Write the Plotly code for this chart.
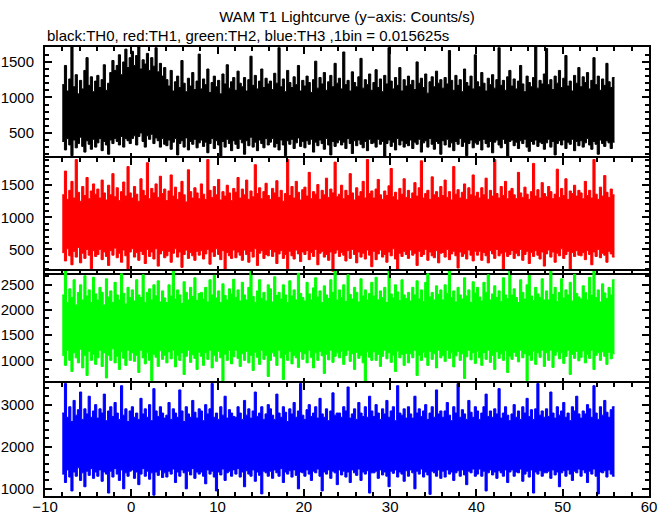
import plotly.graph_objects as go
from plotly.subplots import make_subplots

# Light-curve envelope samples (counts/s): per-0.25 s max (hi) and min (lo)
# of the 1/64 s bins, starting at t = -8 s
T_START = -8.0
STEP = 0.25

th0_hi = [1180,1450,1090,1260,1710,1150,1320,1050,1240,1120,1380,1560,1170,1290,1080,1230,
          1310,1140,1250,1460,1100,1200,1350,1520,1380,1450,1600,1320,1500,1680,1420,1560,
          1650,1450,1590,1710,1400,1530,1470,1620,1380,1560,1440,1700,1360,1480,1300,1420,
          1250,1160,1380,1090,1220,1300,1140,1520,1200,1080,1270,1160,1350,1110,1230,1610,
          1120,1260,1180,1400,1070,1210,1300,1150,1240,1050,1330,1190,1460,1130,1220,1280,
          1100,1370,1200,1150,1280,1090,1250,1580,1170,1310,1120,1230,1400,1140,1270,1190,
          1230,1110,1340,1200,1700,1150,1260,1080,1380,1210,1140,1290,1180,1450,1090,1240,
          1160,1300,1210,1070,1250,1510,1130,1280,1190,1350,1100,1220,1310,1150,1480,1200,
          1270,1120,1640,1180,1240,1090,1360,1210,1150,1290,1550,1130,1250,1180,1330,1100,
          1210,1390,1140,1260,1080,1310,1190,1700,1230,1120,1280,1170,1420,1090,1250,1160,
          1300,1180,1240,1110,1500,1200,1270,1140,1330,1060,1220,1290,1150,1370,1200,1250,
          1130,1280,1190,1660,1240,1100,1310,1170,1250,1080,1400,1210,1160,1300,1120,1600,
          1220,1150,1350,1200,1090,1270,1180,1320,1130,1250,1700,1170,1240,1100,1290,1380,
          1160,1260,1120,1230,1450,1190,1080,1300,1210,1150,1280,1710,1130,1240,1190,1330,
          1690,1180,1250,1110,1300,1200,1380,1140,1270,1590,1160,1230,1090,1310,1200,1420,
          1150,1290,1210,1350,1120,1240,1560,1180,1300,1100,1260,1170,1480,1220,1140,1280]
th0_lo = [380,260,420,330,180,400,290,350,440,310,230,390,340,270,410,300,
          360,420,250,380,330,200,400,350,420,380,330,450,300,420,390,350,
          420,460,330,450,500,380,300,460,410,480,350,430,390,300,420,340,
          320,400,270,370,420,190,350,390,300,430,260,380,340,410,290,360,
          400,310,370,220,350,420,280,390,330,160,380,300,410,350,250,390,
          340,280,410,360,200,390,320,440,300,370,250,400,350,290,420,330,
          370,420,300,350,260,400,330,180,390,340,410,280,360,430,310,380,
          290,390,340,410,230,370,320,400,350,270,420,330,190,380,310,360,
          400,330,370,280,420,350,210,390,320,400,340,290,380,250,410,350,
          360,300,410,340,380,170,350,400,310,370,260,420,330,390,300,350,
          320,400,280,370,340,410,230,360,390,300,420,340,270,380,350,200,
          390,330,410,300,360,250,380,340,420,310,370,180,350,400,290,360,
          340,390,260,410,350,300,380,220,370,400,330,290,410,350,160,380,
          400,320,370,280,390,350,410,300,240,380,340,400,310,370,350,270,
          360,410,300,380,190,350,390,330,400,280,370,340,410,250,380,320,
          390,300,360,420,330,270,380,340,200,400,350,310,390,360,280,370]

th1_hi = [1350,1720,1280,1420,1560,1300,1900,1390,1250,1480,1340,1620,1290,1410,1520,1360,
          1440,1300,1580,1380,1270,1500,1350,1680,1320,1460,1260,1400,1550,1330,1790,1380,
          1300,1480,1360,1250,1600,1420,1340,1850,1290,1450,1380,1520,1310,1640,1370,1440,
          1260,1410,1660,1330,1470,1280,1390,1560,1350,1240,1740,1400,1300,1460,1380,1290,
          1520,1360,1280,1900,1420,1310,1480,1350,1590,1270,1400,1330,1500,1380,1260,1450,
          1390,1620,1300,1440,1350,1580,1280,1410,1320,1820,1370,1460,1290,1400,1530,1340,
          1280,1450,1380,1570,1310,1420,1250,1370,1900,1340,1480,1300,1560,1390,1270,1430,
          1470,1330,1700,1290,1400,1360,1510,1280,1420,1350,1610,1310,1440,1380,1860,1320,
          1360,1500,1290,1420,1340,1680,1380,1270,1460,1330,1400,1560,1300,1900,1370,1410,
          1300,1440,1590,1350,1280,1410,1340,1490,1760,1320,1390,1270,1450,1360,1600,1310,
          1420,1290,1380,1540,1330,1460,1880,1300,1370,1420,1280,1630,1350,1400,1310,1480,
          1340,1580,1310,1400,1270,1790,1360,1430,1300,1390,1520,1280,1460,1350,1660,1330,
          1390,1300,1460,1350,1610,1280,1420,1330,1900,1370,1300,1480,1340,1560,1290,1410,
          1450,1350,1290,1700,1380,1310,1470,1360,1280,1400,1840,1330,1430,1300,1540,1370,
          1320,1480,1400,1290,1360,1750,1310,1450,1340,1600,1280,1410,1370,1500,1330,1420,
          1380,1290,1560,1340,1420,1300,1900,1360,1280,1470,1330,1650,1390,1310,1440,1350]
th1_lo = [450,320,510,400,260,470,380,530,290,440,360,500,410,200,480,390,
          420,500,340,460,390,250,480,410,520,370,440,300,490,400,180,460,
          510,380,450,330,470,420,280,500,390,460,350,510,240,430,480,370,
          400,470,300,440,510,380,460,220,420,490,360,450,400,330,470,410,
          480,350,430,500,270,460,390,510,420,340,480,190,450,400,360,490,
          370,460,410,330,490,420,300,470,380,510,250,440,480,360,420,400,
          500,390,460,280,430,480,360,420,200,470,400,350,490,430,310,460,
          420,480,340,450,390,500,260,440,470,380,420,330,460,160,440,490,
          390,450,410,320,480,360,500,420,290,460,380,440,350,490,410,230,
          470,340,430,490,380,420,300,460,400,510,350,180,440,390,470,420,
          360,490,410,440,250,470,390,420,500,330,460,400,370,480,290,440,
          450,380,500,340,430,470,400,210,460,390,430,350,490,410,320,470,
          410,470,330,450,400,290,480,430,360,500,400,440,170,460,390,420,
          480,360,440,400,500,330,420,470,280,450,390,480,410,350,460,240,
          430,490,380,460,300,440,400,510,360,420,470,190,450,390,480,410,
          400,450,340,480,420,260,460,390,500,370,440,410,300,470,430,380]

th2_hi = [2300,2780,2150,2420,2250,2600,2100,2350,2500,2200,2680,2280,2400,2150,2650,2320,
          2200,2450,2350,2100,2620,2260,2380,2150,2550,2300,2200,2720,2330,2120,2450,2250,
          2400,2180,2600,2300,2250,2700,2150,2350,2420,2200,2500,2280,2580,2160,2380,2240,
          2150,2500,2280,2780,2220,2400,2300,2130,2560,2350,2200,2450,2270,2640,2190,2330,
          2350,2220,2450,2160,2600,2300,2690,2240,2380,2150,2520,2290,2200,2420,2320,2610,
          2250,2400,2180,2550,2300,2200,2450,2780,2270,2150,2380,2600,2230,2350,2180,2500,
          2420,2160,2660,2290,2350,2220,2500,2300,2150,2580,2280,2400,2200,2730,2330,2250,
          2180,2550,2320,2200,2440,2640,2260,2380,2150,2480,2300,2230,2600,2350,2780,2200,
          2400,2250,2500,2170,2700,2310,2220,2450,2350,2160,2620,2280,2400,2200,2330,2550,
          2280,2650,2200,2380,2250,2450,2150,2780,2320,2240,2500,2360,2190,2600,2300,2230,
          2350,2180,2450,2300,2580,2220,2400,2170,2550,2720,2260,2350,2200,2480,2310,2400,
          2200,2500,2330,2780,2250,2380,2160,2450,2300,2220,2640,2280,2400,2150,2560,2340,
          2450,2260,2180,2550,2350,2700,2200,2320,2480,2250,2380,2170,2640,2300,2230,2780,
          2300,2420,2250,2150,2600,2350,2220,2500,2690,2280,2190,2450,2320,2250,2620,2200,
          2380,2200,2780,2310,2450,2170,2350,2620,2240,2400,2300,2550,2180,2710,2330,2260,
          2220,2480,2350,2200,2650,2300,2780,2250,2400,2160,2520,2340,2230,2450,2300,2600]
th2_lo = [1100,900,1200,1000,780,1150,1050,950,1220,850,1100,700,1180,1000,1120,920,
          1050,1200,880,1150,650,1100,1000,1230,950,1080,820,1170,1040,900,1200,1000,
          1150,980,1100,760,1200,1050,930,1150,1000,600,1120,1060,880,1190,1020,1100,
          950,1170,1030,1200,870,1100,1000,1150,720,1080,1200,960,1110,1040,820,1160,
          1080,900,1150,1020,1200,850,1100,980,1180,1050,560,1120,1000,1200,930,1070,
          1200,1040,880,1130,1000,1180,950,1100,800,1160,1060,920,1200,1020,1100,680,
          1000,1150,1080,900,1200,1050,620,1120,1000,1180,930,1100,1050,860,1170,1020,
          1130,950,1200,1060,850,1150,1000,1180,1090,740,1120,1010,1200,960,1080,1150,
          1050,1180,920,1100,1200,980,1130,820,1160,1040,1100,950,580,1170,1060,1000,
          1170,1000,1120,880,1080,1200,1030,1150,960,1100,780,1180,1050,1120,900,1140,
          950,1130,1050,1200,700,1100,1000,1160,1060,900,1180,1020,1130,850,1200,1050,
          1100,980,1200,1040,1150,870,1090,1180,1000,1130,640,1070,1200,1010,1150,940,
          1180,1050,900,1150,1020,1200,960,1100,820,1170,1040,1130,1000,1190,760,1080,
          1020,1160,1080,970,1200,1050,1130,600,1100,1000,1180,920,1150,1060,1200,880,
          1150,1000,1200,860,1100,1170,1030,1150,940,1080,1200,720,1120,1040,1180,990,
          1060,1190,950,1120,1040,1200,820,1100,1150,1000,1170,1080,920,1160,1030,1130]

th3_hi = [2800,3500,2700,2950,2600,3100,2750,2880,3300,2650,2900,2780,3200,2700,2850,3000,
          2680,2900,2800,3250,2620,2850,2950,2720,3050,2800,2650,3450,2750,2900,2600,2850,
          2950,2700,2800,2650,3150,2780,2900,2700,3000,2620,3380,2850,2720,2950,2800,2680,
          2750,3050,2650,2900,2800,2700,3350,2850,2600,2950,2780,2700,3100,2820,2680,2900,
          2850,2620,3000,2780,2900,3500,2700,2800,2650,2950,2750,3200,2680,2880,2800,2720,
          2700,2950,2800,2650,3100,2750,2900,2680,2850,3300,2720,2800,2950,2650,2780,3000,
          2900,2750,2650,3250,2800,2700,2950,2820,2600,2900,2780,3050,2700,2850,3500,2750,
          2650,2880,3000,2720,2800,2950,2680,3150,2780,2700,2900,2620,2850,3280,2750,2800,
          2800,2700,2950,2850,3420,2680,2780,2900,2650,3050,2800,2720,2950,2700,3200,2850,
          2720,3000,2800,2650,2900,2780,3100,2700,2850,2950,2620,3450,2800,2750,2900,2680,
          2950,2780,2680,3200,2800,2900,2720,2850,3000,2650,2800,2950,2700,3350,2780,2850,
          2700,2850,3050,2750,2620,2950,2800,3500,2700,2880,2780,2650,3100,2820,2700,2950,
          2850,2650,2800,2950,3250,2720,2850,2700,2900,2780,3380,2680,2800,2950,2750,2620,
          2780,3000,2700,2850,2650,2950,2800,3150,2720,2880,2650,2900,3500,2750,2850,2700,
          2900,2720,3300,2800,2680,2950,2750,2850,3050,2700,2800,2620,2950,2850,3200,2780,
          2680,2850,2780,3000,2900,2700,3450,2800,2650,2950,2750,3100,2820,2700,2880,2950]
th3_lo = [1350,1150,1450,1280,950,1400,1300,1500,1200,1380,1050,1420,1320,1480,1250,1400,
          1300,1450,1180,1400,1350,900,1420,1280,1480,1350,1200,1450,1000,1380,1300,1420,
          1450,1250,1400,1100,1350,1480,1300,1420,1230,1380,850,1400,1320,1450,1270,1380,
          1280,1420,1350,1470,1150,1400,1300,1450,1380,1000,1420,1330,1480,1250,1400,1350,
          1400,1300,1120,1450,1350,1420,1280,950,1400,1330,1470,1200,1380,1420,1300,1450,
          1350,1480,1280,1400,1050,1430,1350,1300,1450,1180,1400,1320,880,1420,1380,1300,
          1420,1250,1450,1380,1300,1480,1150,1400,1350,1430,1280,1450,1320,1000,1400,1380,
          1300,1450,1350,1200,1420,1380,1470,1300,950,1400,1350,1450,1250,1420,1380,1100,
          1450,1330,1420,1280,1400,1150,1450,1380,1320,1470,1200,1400,1350,1430,900,1380,
          1380,1420,1250,1450,1330,1400,1300,1050,1420,1370,1450,1280,1400,1350,1180,1430,
          1300,1450,1380,1000,1420,1350,1470,1280,1400,1330,870,1420,1380,1300,1450,1250,
          1420,1280,1450,1350,1400,1200,1380,1430,1300,1450,1330,1100,1420,1380,1470,1300,
          1350,1470,1300,1420,950,1380,1450,1330,1400,1250,1430,1380,1300,1450,1150,1400,
          1450,1300,1400,1380,1470,1180,1350,1420,1280,1450,900,1400,1350,1430,1300,1380,
          1380,1420,1250,1450,1330,1400,1050,1380,1430,1300,1450,1350,1200,1420,1380,1470,
          1300,1450,1380,1150,1420,1350,1470,1300,880,1400,1380,1430,1280,1450,1350,1300]

series = [
    ("TH0", th0_hi, th0_lo, "#000000"),
    ("TH1", th1_hi, th1_lo, "#ff0000"),
    ("TH2", th2_hi, th2_lo, "#00ff00"),
    ("TH3", th3_hi, th3_lo, "#0000ff"),
]
y_ranges = [[115, 1710], [140, 1920], [515, 2785], [830, 3520]]
y_dticks = [500, 500, 500, 1000]
y_minor = [100, 100, 500 / 3, 200]

W, H = 672, 515
M_L, M_R, M_T, M_B = 45, 23, 47, 19
LW = 2
plot_h = H - M_T - M_B
ov = LW / plot_h  # overlap so neighbouring panel borders coincide

fig = make_subplots(rows=4, cols=1, shared_xaxes=True, vertical_spacing=0)

for r, (name, hi, lo, col) in enumerate(series, start=1):
    t = [T_START + STEP * i for i in range(len(hi) + 1)]
    lo_y = lo + [lo[-1]]
    hi_y = hi + [hi[-1]]
    fig.add_trace(go.Scatter(x=t, y=lo_y, mode="lines", name=name,
                             line=dict(width=1, shape="hv", color=col),
                             showlegend=False, hoverinfo="skip"), row=r, col=1)
    fig.add_trace(go.Scatter(x=t, y=hi_y, mode="lines", name=name,
                             line=dict(width=1, shape="hv", color=col),
                             fill="tonexty", fillcolor=col,
                             showlegend=False, hoverinfo="skip"), row=r, col=1)

fig.update_xaxes(range=[-10, 60], showline=True, linecolor="black", linewidth=LW,
                 mirror="ticks", ticks="inside", ticklen=7, tickwidth=1.5, tickcolor="black",
                 tick0=0, dtick=10, showgrid=False, zeroline=False, automargin=False,
                 minor=dict(dtick=2, tick0=0, ticks="inside", ticklen=4, tickwidth=1.5,
                            tickcolor="black", showgrid=False),
                 ticklabelstandoff=-4)

for r in range(4):
    k = 3 - r  # panel index from bottom
    lo_d = k / 4 - (ov / 2 if k > 0 else 0)
    hi_d = (k + 1) / 4 + (ov / 2 if k < 3 else 0)
    fig.update_yaxes(range=y_ranges[r], dtick=y_dticks[r], tick0=0,
                     domain=[lo_d, hi_d],
                     showline=True, linecolor="black", linewidth=LW,
                     mirror="ticks", ticks="inside", ticklen=7, tickwidth=1.5,
                     tickcolor="black", showgrid=False, zeroline=False, automargin=False,
                     minor=dict(dtick=y_minor[r], tick0=0, ticks="inside", ticklen=4,
                                tickwidth=1.5, tickcolor="black", showgrid=False),
                     ticklabelstandoff=6, row=r + 1, col=1)

fig.update_layout(
    width=W, height=H,
    margin=dict(l=M_L, r=M_R, t=M_T, b=M_B, autoexpand=False),
    plot_bgcolor="white", paper_bgcolor="white",
    showlegend=False,
    font=dict(family="Liberation Sans, Arial, sans-serif", size=15, color="black"),
    title=dict(text="WAM T1 Lightcurve (y\u2212axis: Counts/s)", x=0.5, xref="paper",
               xanchor="center", y=1 - 17 / H, yref="container", yanchor="middle",
               font=dict(size=15, color="black")),
    annotations=[dict(text="black:TH0, red:TH1, green:TH2, blue:TH3 ,1bin = 0.015625s",
                      x=0, xref="paper", xanchor="left", y=1, yref="paper",
                      yanchor="middle", yshift=12, showarrow=False,
                      font=dict(size=15, color="black"))],
)

fig.write_html("out.html", config={"displayModeBar": False},
               post_script="document.body.style.margin='0px';document.body.style.overflow='hidden';")
